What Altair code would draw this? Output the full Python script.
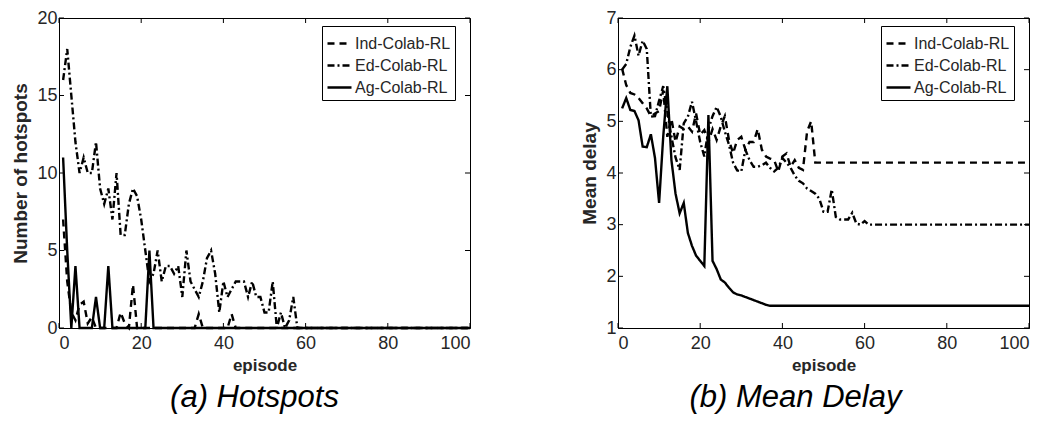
import altair as alt
import pandas as pd

# ---------------- data ----------------
episodes = list(range(1, 101))
series_names = ["Ind-Colab-RL", "Ed-Colab-RL", "Ag-Colab-RL"]

# (a) number of hotspots
ind_hot = [7, 3, 1, 0.5, 1.5, 1.7, 0.3, 0.7, 0, 0, 0, 0, 0, 0, 1, 0.3, 0, 2.8] + [0] * 15 + [0.9] + [0] * 7 + [0.9] + [0] * 58
ed_hot = [16, 18, 15, 12, 10, 11, 10, 10, 12, 9,
          8, 9, 7, 10, 6, 6, 8, 9, 8.5, 7,
          5, 3, 3.5, 5, 3, 4, 4, 3.5, 4, 2,
          5, 3, 2.5, 2, 3, 4.5, 5, 3.5, 1, 3,
          2, 2.5, 3, 3, 3, 2, 3, 2, 2, 1,
          1, 3, 0, 1, 0, 0.5, 2, 0] + [0] * 42
ag_hot = [11, 5, 0, 4, 0, 0, 0, 0, 2, 0, 0, 4, 0] + [0] * 8 + [5] + [0] * 78

# (b) mean delay
ind_delay = [6.02, 5.7, 5.55, 5.52, 5.45, 5.35, 5.25, 5.1, 5.15, 5.2,
             5.6, 4.7, 5.05, 4.6, 4.9, 4.85, 4.9, 4.8, 5.15, 4.74,
             4.83, 4.6, 4.85, 4.64, 4.9, 5.1, 4.64, 4.38, 4.64, 4.7,
             4.45, 4.6, 4.6, 4.85, 4.45, 4.32, 4.28, 4.25, 4.03, 4.32,
             4.38, 4.12, 4.25, 4.1, 4.06, 4.8, 5.0, 4.2] + [4.2] * 52
ed_delay = [6.0, 6.11, 6.44, 6.66, 6.27, 6.56, 6.4, 5.09, 5.1, 5.4,
            5.68, 5.2, 4.7, 4.3, 4.06, 4.96, 5.09, 5.38, 5.0, 4.6,
            4.32, 4.85, 5.1, 5.28, 5.09, 4.8, 4.55, 4.2, 4.05, 4.03,
            4.45, 4.25, 4.12, 4.12, 4.15, 4.2, 4.1, 4.03, 4.1, 4.29,
            4.2, 4.1, 3.95, 3.85, 3.8, 3.7, 3.65, 3.6, 3.5, 3.25,
            3.25, 3.68, 3.15, 3.1, 3.1, 3.1, 3.23, 3.02, 3.0, 3.07,
            3.0] + [3.0] * 39
ag_delay = [5.25, 5.45, 5.22, 5.2, 5.02, 4.51, 4.5, 4.75, 4.29, 3.42,
            4.7, 5.68, 4.25, 3.6, 3.22, 3.42, 2.84, 2.59, 2.4, 2.3,
            2.2, 5.12, 2.3, 2.14, 1.94, 1.88, 1.78, 1.69, 1.65, 1.63,
            1.6, 1.57, 1.54, 1.51, 1.48, 1.45, 1.43] + [1.43] * 63

x_ticks = [0, 20, 40, 60, 80, 100]
hot_ticks = [0, 5, 10, 15, 20]
delay_ticks = [1, 2, 3, 4, 5, 6, 7]

# ---------------- helpers ----------------
W, H = 411, 310
FONT = "Liberation Sans"
TXT = "#262626"


def long_df(values_by_series):
    rows = []
    for name, vals in zip(series_names, values_by_series):
        for e, v in zip(episodes, vals):
            rows.append({"episode": e, "value": v, "series": name})
    return pd.DataFrame(rows)


def panel(df, ydom, yticks, ytitle, caption, cap_dx):
    xs = alt.Scale(domain=[0, 100], nice=False, zero=False)
    ys = alt.Scale(domain=ydom, nice=False, zero=False)
    lines = alt.Chart(df).mark_line(strokeWidth=2.4, color="black").encode(
        x=alt.X("episode:Q", scale=xs,
                axis=alt.Axis(values=x_ticks, title="episode", grid=False, ticks=False,
                              labelPadding=6, titlePadding=5)),
        y=alt.Y("value:Q", scale=ys,
                axis=alt.Axis(values=yticks, title=ytitle, grid=False, ticks=False,
                              labelPadding=2, titlePadding=6)),
        strokeDash=alt.StrokeDash(
            "series:N",
            scale=alt.Scale(domain=series_names,
                            range=[[7, 5], [7, 3, 2, 3], [1, 0]]),
            legend=alt.Legend(orient="none", legendX=263, legendY=8, title=None,
                              symbolType="stroke", symbolSize=576,
                              symbolStrokeWidth=2.4, symbolStrokeColor="black",
                              labelFontSize=16, labelFont=FONT, labelColor=TXT,
                              strokeColor="black", fillColor="white",
                              padding=4, rowPadding=-5, labelOffset=2,
                              labelLimit=200)),
        detail="series:N",
        order="episode:Q",
    )
    xt = pd.DataFrame({"v": x_ticks})
    yt = pd.DataFrame({"v": yticks})
    bt = alt.Chart(xt).mark_rule(color="black", strokeWidth=1).encode(
        x=alt.X("v:Q", scale=xs), y=alt.value(H), y2=alt.value(H - 5))
    tt = alt.Chart(xt).mark_rule(color="black", strokeWidth=1).encode(
        x=alt.X("v:Q", scale=xs), y=alt.value(0), y2=alt.value(5))
    lt = alt.Chart(yt).mark_rule(color="black", strokeWidth=1).encode(
        y=alt.Y("v:Q", scale=ys), x=alt.value(0), x2=alt.value(5))
    rt = alt.Chart(yt).mark_rule(color="black", strokeWidth=1).encode(
        y=alt.Y("v:Q", scale=ys), x=alt.value(W), x2=alt.value(W - 5))
    return alt.layer(lines, bt, tt, lt, rt).properties(
        width=W, height=H,
        title=alt.TitleParams(caption, orient="bottom", anchor="middle",
                              fontSize=31, fontStyle="italic", fontWeight="normal",
                              font=FONT, color="black", offset=10, dx=cap_dx),
    )


left = panel(long_df([ind_hot, ed_hot, ag_hot]), [0, 20], hot_ticks,
             "Number of hotspots", "(a) Hotspots", -10)
right = panel(long_df([ind_delay, ed_delay, ag_delay]), [1, 7], delay_ticks,
              "Mean delay", "(b) Mean Delay", -28)

chart = alt.hconcat(left, right, spacing=104).resolve_scale(
    strokeDash="independent", x="independent", y="independent"
).configure_view(stroke="black", strokeWidth=1).configure_axis(
    domainColor="black", labelFont=FONT, titleFont=FONT,
    labelFontSize=18, titleFontSize=17, titleFontWeight="bold",
    labelColor=TXT, titleColor=TXT,
).configure_axisY(titleFontSize=19).properties(
    padding={"left": 3, "top": 0, "right": 0, "bottom": 0},
    background="white",
)

chart.save("out.html", embed_options={"renderer": "svg", "actions": False})
